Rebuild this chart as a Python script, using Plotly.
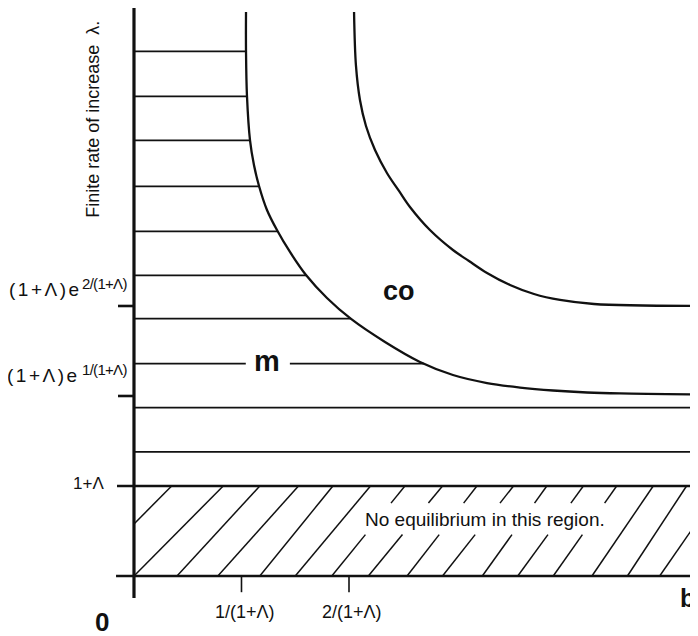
import numpy as np
import plotly.graph_objects as go

# ---- data (schematic units: x in multiples of 1/(1+Λ); y: 1+Λ = 1, ticks at 2, 3) ----
m_x = [1.042, 1.042, 1.051, 1.079, 1.116, 1.163, 1.237, 1.330, 1.451, 1.600, 1.795, 2.019,
       2.335, 2.660, 2.967, 3.284, 3.591, 3.898, 4.214, 4.521, 5.247]
m_y = [6.267, 5.833, 5.333, 4.844, 4.567, 4.333, 4.067, 3.844, 3.600, 3.344, 3.089, 2.856,
       2.600, 2.378, 2.233, 2.144, 2.094, 2.061, 2.039, 2.028, 2.017]

co_x = [2.047, 2.065, 2.102, 2.158, 2.242, 2.353, 2.465, 2.567, 2.753, 2.967, 3.116, 3.284,
        3.498, 3.721, 3.963, 4.279, 5.247]
co_y = [6.267, 5.667, 5.289, 5.000, 4.733, 4.478, 4.278, 4.100, 3.844, 3.622, 3.500, 3.367,
        3.233, 3.133, 3.067, 3.022, 3.000]

hatch_y = [1.38, 1.87, 2.36, 2.86, 3.34, 3.83, 4.33, 4.84, 5.33, 5.83]

diag_bottom = [-0.48, 0.0, 0.40, 0.78, 1.17, 1.50, 1.84, 2.18, 2.54, 2.87, 3.24, 3.57, 3.90, 4.26, 4.59, 4.89, 5.24]
diag_top = [0.35, 0.83, 1.17, 1.53, 1.85, 2.20, 2.52, 2.87, 3.19, 3.53, 3.84, 4.18, 4.49, 4.83, 5.14, 5.47, 5.80]

x_tick_vals = [1, 2]
x_tick_text = ["1/(1+Λ)", "2/(1+Λ)"]
y_tick_vals = [1, 2, 3]

# page has an 8px body margin: the figure covers page pixels 8..698 x 8..636
X_MIN, X_MAX = -1.172, 5.2465
Y_MIN, Y_MAX = -0.6667, 6.311

FONT = "Liberation Sans, Arial, Helvetica, sans-serif"
INK = "#111111"

fig = go.Figure()


def add_segments(segs, width, color=INK):
    xs, ys = [], []
    for (x0, y0, x1, y1) in segs:
        xs += [x0, x1, None]
        ys += [y0, y1, None]
    fig.add_trace(go.Scatter(x=xs, y=ys, mode="lines",
                             line=dict(color=color, width=width),
                             hoverinfo="skip", showlegend=False))


# horizontal hatch lines (region m), ending at curve m
m_label = (1.24, 2.37)
m_gap = (1.04, 1.45)
hsegs = []
for hy in hatch_y:
    if hy < min(m_y):
        end = X_MAX
    else:
        end = float(np.interp(hy, m_y[::-1], m_x[::-1]))
    if abs(hy - m_label[1]) < 0.1:
        hsegs.append((0, hy, m_gap[0], hy))
        hsegs.append((m_gap[1], hy, end, hy))
    else:
        hsegs.append((0, hy, end, hy))
add_segments(hsegs, 1.7)

# diagonal hatch (no equilibrium region), with gap for text
box_x = (2.10, 4.45)
box_y = (0.46, 0.81)
dsegs = []
for xb, xt in zip(diag_bottom, diag_top):
    def xat(t):
        return xb + (xt - xb) * t
    t0 = max(0.0, (0 - xb) / (xt - xb)) if xb < 0 else 0.0
    t1 = min(1.0, (X_MAX - xb) / (xt - xb)) if xt > X_MAX else 1.0
    if box_x[0] <= xat(box_y[0]) <= box_x[1] and box_x[0] <= xat(box_y[1]) <= box_x[1]:
        parts = [(t0, box_y[0]), (box_y[1], t1)]
    else:
        parts = [(t0, t1)]
    for a, b in parts:
        if b > a:
            dsegs.append((xat(a), a, xat(b), b))
add_segments(dsegs, 1.5)

# axes, base line and ticks
add_segments([(0, -0.244, 0, 6.32)], 3.2)
add_segments([(-0.167, 0, X_MAX, 0), (-0.158, 1, X_MAX, 1)], 2.6)
add_segments([(-0.149, v, 0, v) for v in y_tick_vals[1:]], 2.6)
add_segments([(v, 0, v, -0.18) for v in x_tick_vals], 1.6)

# curves
for cx, cy in ((m_x, m_y), (co_x, co_y)):
    fig.add_trace(go.Scatter(x=cx, y=cy, mode="lines",
                             line=dict(color=INK, width=2.3, shape="spline", smoothing=1.0),
                             hoverinfo="skip", showlegend=False))

ann = []


def text(x, y, s, size, bold=False, xanchor="center", yanchor="middle", angle=0):
    ann.append(dict(x=x, y=y, xref="x", yref="y", text=(f"<b>{s}</b>" if bold else s),
                    showarrow=False, xanchor=xanchor, yanchor=yanchor, textangle=angle,
                    font=dict(family=FONT, size=size, color=INK)))


BASE = '<span style="letter-spacing:2.5px">(1+Λ)e</span>'


def sup(s):
    return f'<span style="letter-spacing:-0.7px">{s}</span>'


# x tick labels
for v, t in zip(x_tick_vals, x_tick_text):
    text(v + 0.03, -0.40, t, 18)

# y tick labels
text(-0.26, 1.03, "1+Λ", 17, xanchor="right")
text(-0.465, 3.178, BASE, 19, xanchor="right")
text(-0.505, 3.25, sup("2/(1+Λ)"), 15, xanchor="left")
text(-0.48, 2.233, BASE, 19, xanchor="right")
text(-0.505, 2.29, sup("1/(1+Λ)"), 15, xanchor="left")

# axis title
text(-0.383, 5.078, "Finite rate of increase  λ.", 18, angle=-90)

# region labels
text(3.265, 0.633, "No equilibrium in this region.", 19)
text(2.465, 3.17, "co", 27, bold=True)
text(m_label[0], m_label[1] + 0.02, "m", 29, bold=True)
text(-0.298, -0.515, "0", 26, bold=True)
text(5.153, -0.244, "b", 25, bold=True)

fig.update_layout(
    width=690, height=628,
    margin=dict(l=0, r=0, t=0, b=0),
    paper_bgcolor="white", plot_bgcolor="white",
    xaxis=dict(range=[X_MIN, X_MAX], visible=False, fixedrange=True),
    yaxis=dict(range=[Y_MIN, Y_MAX], visible=False, fixedrange=True),
    annotations=ann,
    showlegend=False,
)

fig.write_html("out.html")
